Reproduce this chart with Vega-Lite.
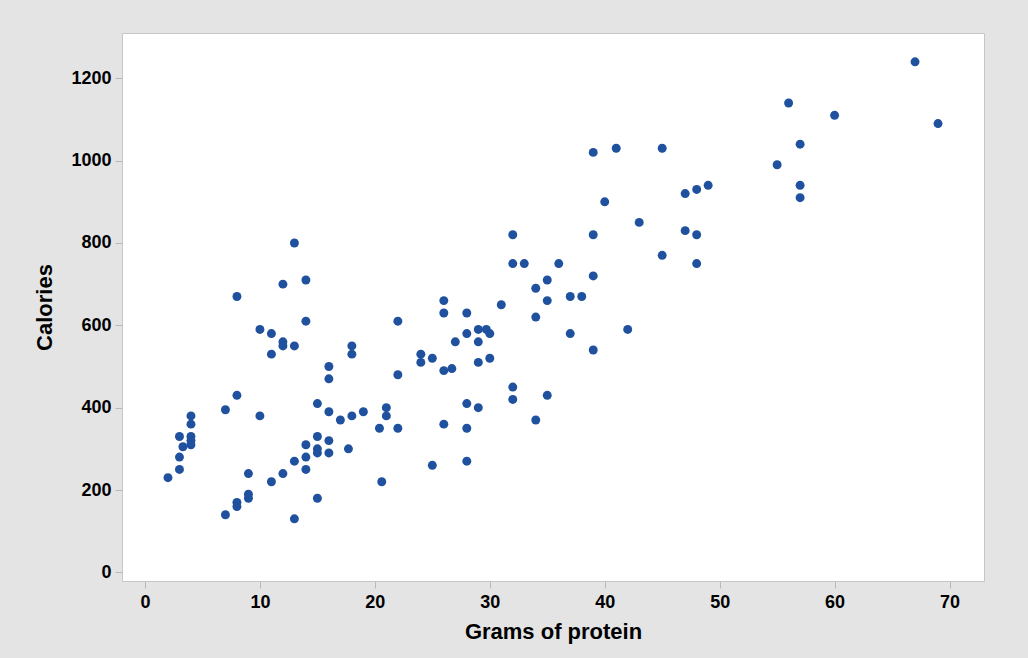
{
  "$schema": "https://vega.github.io/schema/vega-lite/v6.json",
  "autosize": "none",
  "width": 862,
  "height": 548,
  "padding": {"left": 122, "top": 33, "right": 44, "bottom": 77},
  "background": "#e4e4e4",
  "config": {
    "view": {"fill": "#ffffff", "stroke": "#c6c6c6", "strokeWidth": 1},
    "axis": {
      "grid": false,
      "domain": false,
      "tickColor": "#b8b8b8",
      "tickSize": 7,
      "tickWidth": 1,
      "labelFont": "Liberation Sans",
      "labelFontWeight": "bold",
      "labelFontSize": 18,
      "labelColor": "#000000",
      "titleFont": "Liberation Sans",
      "titleFontWeight": "bold",
      "titleFontSize": 22,
      "titleColor": "#000000"
    }
  },
  "data": {
    "values": [
      {"protein": 2, "calories": 230},
      {"protein": 3, "calories": 250},
      {"protein": 3, "calories": 280},
      {"protein": 3, "calories": 330},
      {"protein": 3.3, "calories": 305},
      {"protein": 4, "calories": 380},
      {"protein": 4, "calories": 360},
      {"protein": 4, "calories": 330},
      {"protein": 4, "calories": 320},
      {"protein": 4, "calories": 310},
      {"protein": 7, "calories": 395},
      {"protein": 7, "calories": 140},
      {"protein": 8, "calories": 430},
      {"protein": 8, "calories": 170},
      {"protein": 8, "calories": 160},
      {"protein": 8, "calories": 670},
      {"protein": 9, "calories": 240},
      {"protein": 9, "calories": 190},
      {"protein": 9, "calories": 180},
      {"protein": 10, "calories": 380},
      {"protein": 10, "calories": 590},
      {"protein": 11, "calories": 220},
      {"protein": 11, "calories": 580},
      {"protein": 11, "calories": 530},
      {"protein": 12, "calories": 240},
      {"protein": 12, "calories": 700},
      {"protein": 12, "calories": 560},
      {"protein": 12, "calories": 550},
      {"protein": 13, "calories": 270},
      {"protein": 13, "calories": 130},
      {"protein": 13, "calories": 800},
      {"protein": 13, "calories": 550},
      {"protein": 14, "calories": 310},
      {"protein": 14, "calories": 280},
      {"protein": 14, "calories": 250},
      {"protein": 14, "calories": 710},
      {"protein": 14, "calories": 610},
      {"protein": 15, "calories": 410},
      {"protein": 15, "calories": 330},
      {"protein": 15, "calories": 300},
      {"protein": 15, "calories": 290},
      {"protein": 15, "calories": 180},
      {"protein": 16, "calories": 390},
      {"protein": 16, "calories": 320},
      {"protein": 16, "calories": 290},
      {"protein": 16, "calories": 500},
      {"protein": 16, "calories": 470},
      {"protein": 17, "calories": 370},
      {"protein": 17.7, "calories": 300},
      {"protein": 18, "calories": 550},
      {"protein": 18, "calories": 530},
      {"protein": 18, "calories": 380},
      {"protein": 19, "calories": 390},
      {"protein": 21, "calories": 400},
      {"protein": 21, "calories": 380},
      {"protein": 20.4, "calories": 350},
      {"protein": 20.6, "calories": 220},
      {"protein": 22, "calories": 610},
      {"protein": 22, "calories": 480},
      {"protein": 22, "calories": 350},
      {"protein": 24, "calories": 530},
      {"protein": 24, "calories": 510},
      {"protein": 25, "calories": 520},
      {"protein": 25, "calories": 260},
      {"protein": 26, "calories": 660},
      {"protein": 26, "calories": 630},
      {"protein": 26, "calories": 490},
      {"protein": 26, "calories": 360},
      {"protein": 26.7, "calories": 495},
      {"protein": 27, "calories": 560},
      {"protein": 28, "calories": 630},
      {"protein": 28, "calories": 580},
      {"protein": 28, "calories": 410},
      {"protein": 28, "calories": 350},
      {"protein": 28, "calories": 270},
      {"protein": 29, "calories": 590},
      {"protein": 29, "calories": 560},
      {"protein": 29, "calories": 510},
      {"protein": 29, "calories": 400},
      {"protein": 29.7, "calories": 590},
      {"protein": 30, "calories": 580},
      {"protein": 30, "calories": 520},
      {"protein": 31, "calories": 650},
      {"protein": 32, "calories": 820},
      {"protein": 32, "calories": 750},
      {"protein": 32, "calories": 450},
      {"protein": 32, "calories": 420},
      {"protein": 33, "calories": 750},
      {"protein": 34, "calories": 690},
      {"protein": 34, "calories": 620},
      {"protein": 34, "calories": 370},
      {"protein": 35, "calories": 710},
      {"protein": 35, "calories": 660},
      {"protein": 35, "calories": 430},
      {"protein": 36, "calories": 750},
      {"protein": 37, "calories": 670},
      {"protein": 37, "calories": 580},
      {"protein": 38, "calories": 670},
      {"protein": 39, "calories": 1020},
      {"protein": 39, "calories": 820},
      {"protein": 39, "calories": 720},
      {"protein": 39, "calories": 540},
      {"protein": 40, "calories": 900},
      {"protein": 41, "calories": 1030},
      {"protein": 42, "calories": 590},
      {"protein": 43, "calories": 850},
      {"protein": 45, "calories": 1030},
      {"protein": 45, "calories": 770},
      {"protein": 47, "calories": 920},
      {"protein": 47, "calories": 830},
      {"protein": 48, "calories": 930},
      {"protein": 48, "calories": 820},
      {"protein": 48, "calories": 750},
      {"protein": 49, "calories": 940},
      {"protein": 55, "calories": 990},
      {"protein": 56, "calories": 1140},
      {"protein": 57, "calories": 1040},
      {"protein": 57, "calories": 940},
      {"protein": 57, "calories": 910},
      {"protein": 60, "calories": 1110},
      {"protein": 67, "calories": 1240},
      {"protein": 69, "calories": 1090}
    ]
  },
  "mark": {"type": "circle", "size": 80, "color": "#1f519e", "opacity": 1},
  "encoding": {
    "x": {
      "field": "protein",
      "type": "quantitative",
      "title": "Grams of protein",
      "scale": {"domain": [-2, 73], "nice": false, "zero": false},
      "axis": {"values": [0, 10, 20, 30, 40, 50, 60, 70], "format": "d", "labelPadding": 5, "titlePadding": 10}
    },
    "y": {
      "field": "calories",
      "type": "quantitative",
      "title": "Calories",
      "scale": {"domain": [-21, 1310], "nice": false, "zero": false},
      "axis": {"values": [0, 200, 400, 600, 800, 1000, 1200], "format": "d", "labelPadding": 4, "titlePadding": 14}
    }
  }
}
